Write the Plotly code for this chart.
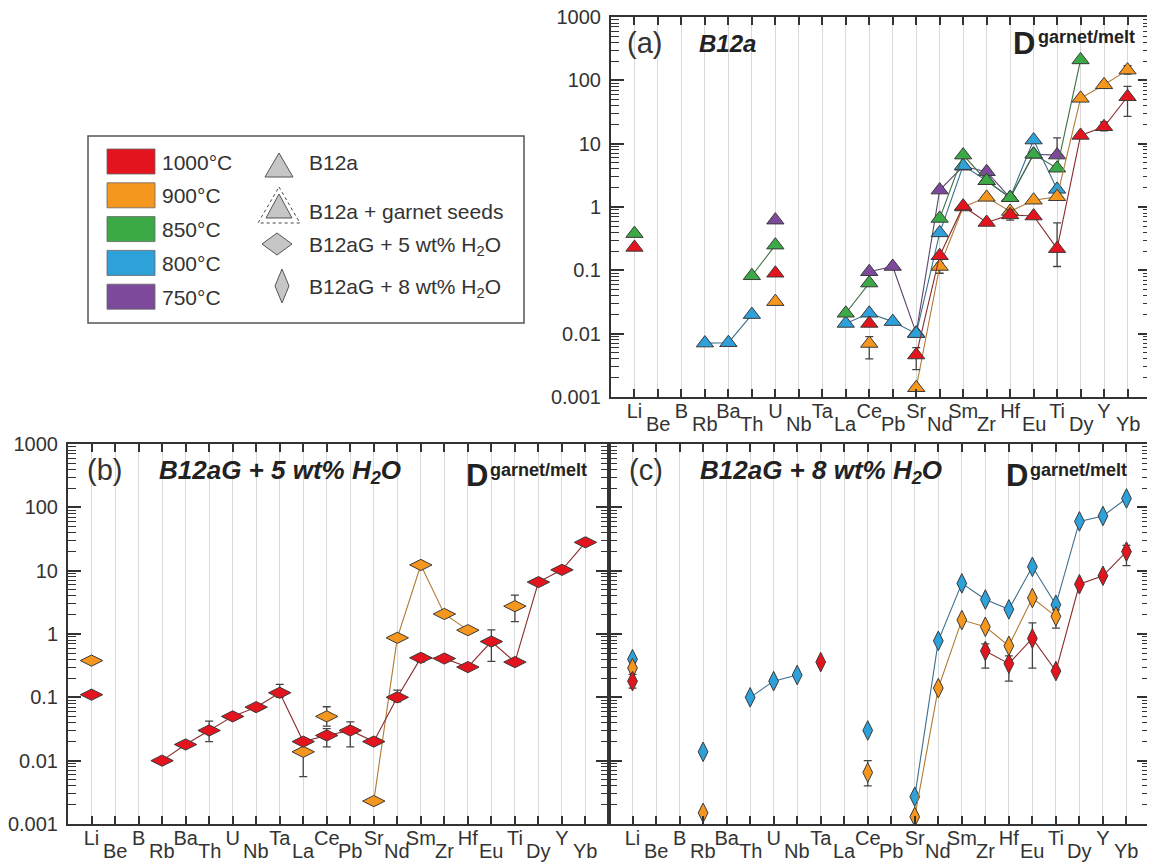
import math
import plotly.graph_objects as go

N = None
elements = ["Li", "Be", "B", "Rb", "Ba", "Th", "U", "Nb", "Ta", "La", "Ce",
            "Pb", "Sr", "Nd", "Sm", "Zr", "Hf", "Eu", "Ti", "Dy", "Y", "Yb"]

# ---------------- Panel (a) B12a (triangles) ----------------
a_750 = [N, N, N, N, N, N, 0.62, N, N, N, 0.095, 0.115, 0.0102, 1.85, 4.4, 3.6, 1.4, 6.8, 6.6, N, N, N]
a_800 = [N, N, N, 0.0071, 0.0072, 0.02, N, N, N, 0.0145, 0.021, 0.0155, 0.01, 0.39, 4.5, 2.6, 1.4, 11.4, 1.9, N, N, N]
a_850 = [0.38, N, N, N, N, 0.082, 0.25, N, N, 0.021, 0.063, N, N, 0.66, 6.6, 2.6, 1.4, 6.8, 4.1, 210, N, N]
a_900 = [N, N, N, N, N, N, 0.032, N, N, N, 0.007, N, 0.0014, 0.115, 1.0, 1.42, 0.85, 1.28, 1.45, 52, 85, 145]
a_1000 = [0.23, N, N, N, N, N, 0.09, N, N, N, 0.0145, N, 0.0046, 0.17, 1.03, 0.57, 0.75, 0.72, 0.22, 13.5, 18.5, 55]
# error bar ends (low, high)
a_750_err = {"Ti": (6.6, 12.3)}
a_900_err = {"Ce": (0.004, 0.009), "Nd": (0.09, 0.13), "Y": (75, 95), "Yb": (125, 170)}
a_1000_err = {"Sr": (0.0027, 0.006), "Hf": (0.62, 0.9), "Ti": (0.115, 0.56), "Y": (16, 22), "Yb": (27, 80)}

# ---------------- Panel (b) B12aG + 5 wt% H2O (wide diamonds) ----------------
b_900 = [N, N, N, N, N, N, N, N, N, N, N, N, 0.0023, 0.87, 12.3, 2.07, 1.15, N, N, N, N, N]
b_900_single = [0.38, N, N, N, N, N, N, N, N, 0.0138, 0.05, N, N, N, N, N, N, N, 2.75, N, N, N]
b_1000 = [0.11, N, N, 0.01, 0.018, 0.03, 0.05, 0.07, 0.118, 0.02, 0.025, 0.03, 0.02, 0.10, 0.42, 0.41, 0.30, 0.76, 0.36, 6.6, 10.3, 28]
b_900_err = {"La": (0.0056, 0.018), "Ce": (0.035, 0.071), "Ti": (1.57, 4.1)}
b_1000_err = {"Th": (0.02, 0.042), "Ta": (0.1, 0.16), "Ce": (0.0165, 0.032), "Pb": (0.0165, 0.041),
              "Nd": (0.085, 0.13), "Sm": (0.36, 0.48), "Eu": (0.37, 1.16)}

# ---------------- Panel (c) B12aG + 8 wt% H2O (tall diamonds) ----------------
c_800 = [0.4, N, N, 0.0138, N, 0.1, 0.18, 0.225, N, N, 0.03, N, 0.0027, 0.78, 6.3, 3.5, 2.45, 11.5, 2.9, 60, 73, 138]
c_900 = [0.29, N, N, 0.0015, N, N, N, N, N, N, 0.0065, N, 0.0013, 0.14, 1.66, 1.3, 0.65, 3.7, 1.9, N, N, N]
c_1000 = [0.18, N, N, N, N, N, N, N, 0.36, N, N, N, N, N, N, 0.54, 0.34, 0.85, 0.26, 6.1, 8.3, 20]
c_900_err = {"Ce": (0.004, 0.01), "Ti": (1.24, 2.4)}
c_1000_err = {"Li": (0.14, 0.23), "Zr": (0.29, 0.7), "Hf": (0.18, 0.45), "Eu": (0.29, 1.5), "Yb": (12, 25)}

y_tick_vals = [0.001, 0.01, 0.1, 1, 10, 100, 1000]
y_tick_text = ["0.001", "0.01", "0.1", "1", "10", "100", "1000"]
ref_value = 1

legend_temps = ["1000°C", "900°C", "850°C", "800°C", "750°C"]
legend_kinds = ["B12a", "B12a + garnet seeds", "B12aG + 5 wt% H<sub>2</sub>O", "B12aG + 8 wt% H<sub>2</sub>O"]

COL = {"1000": "#e3141d", "900": "#f5961e", "850": "#3aa946", "800": "#2ea0da", "750": "#7d4a9b"}
LINE = {"1000": "#8a2a2a", "900": "#b07a35", "850": "#3b7045", "800": "#3d6f8e", "750": "#5e4470"}
FONT = "Liberation Sans, Arial, sans-serif"
TXT = "#333333"

W, H = 1155, 865
OFF = 8  # page body margin
def px(x):
    return (x - OFF) / W
def py(y):
    return 1 - (y - OFF) / H

xs = list(range(len(elements)))

fig = go.Figure()

def err_arrays(vals, errs):
    plus, minus = [], []
    for el, v in zip(elements, vals):
        if v is not None and el in errs:
            lo, hi = errs[el]
            plus.append(hi - v)
            minus.append(v - lo)
        else:
            plus.append(0)
            minus.append(0)
    return plus, minus

def add_series(vals, key, xa, ya, symbol, size, errs=None, mode="lines+markers"):
    kw = {}
    if errs:
        p, m = err_arrays(vals, errs)
        kw["error_y"] = dict(type="data", symmetric=False, array=p, arrayminus=m,
                             color="#444", thickness=1.3, width=4)
    fig.add_trace(go.Scatter(
        x=xs, y=vals, mode=mode, xaxis=xa, yaxis=ya, showlegend=False,
        line=dict(color=LINE[key], width=1.1),
        marker=dict(symbol=symbol, size=size, color=COL[key],
                    line=dict(color="#3a3a3a", width=1)),
        connectgaps=False, **kw))

# panel a
for vals, key, errs in [(a_750, "750", a_750_err), (a_800, "800", None), (a_850, "850", None),
                        (a_900, "900", a_900_err), (a_1000, "1000", a_1000_err)]:
    add_series(vals, key, "x", "y", "triangle-up", 15, errs)
# panel b
add_series(b_900, "900", "x2", "y2", "diamond-wide", 16, None)
add_series(b_900_single, "900", "x2", "y2", "diamond-wide", 16, b_900_err, mode="markers")
add_series(b_1000, "1000", "x2", "y2", "diamond-wide", 16, b_1000_err)
# panel c
add_series(c_800, "800", "x3", "y3", "diamond-tall", 14, None)
add_series(c_900, "900", "x3", "y3", "diamond-tall", 14, c_900_err)
add_series(c_1000, "1000", "x3", "y3", "diamond-tall", 14, c_1000_err)

upper_idx = [i for i in xs if i % 2 == 0]
upper_text = [elements[i] for i in upper_idx]
lower_idx = [i for i in xs if i % 2 == 1]
minor_vals = [m * 10 ** e for e in range(-3, 3) for m in range(2, 10)]

def xcfg(dom, anchor):
    return dict(domain=dom, anchor=anchor, range=[-1, 22], tickmode="array", tickvals=upper_idx,
                ticktext=upper_text, ticks="inside", ticklen=8, tickwidth=1.5, tickcolor="#333",
                minor=dict(tickmode="array", tickvals=lower_idx, ticks="inside", ticklen=8,
                           tickwidth=1.5, tickcolor="#333", showgrid=True,
                           gridcolor="#d9d9d9", gridwidth=1),
                showline=True, linewidth=2, linecolor="#333", mirror="ticks",
                showgrid=True, gridcolor="#d9d9d9", gridwidth=1, zeroline=False,
                tickfont=dict(size=20, color=TXT, family=FONT), ticklabelstandoff=-5,
                ticklabeloverflow="allow", automargin=False)

def ycfg(dom, anchor, labels=True):
    return dict(domain=dom, anchor=anchor, type="log", range=[-3, 3], tickmode="array",
                tickvals=y_tick_vals, ticktext=y_tick_text, showticklabels=labels,
                ticks="inside", ticklen=13, tickwidth=1.5, tickcolor="#333",
                minor=dict(tickmode="array", tickvals=minor_vals, ticks="inside", ticklen=8,
                           tickwidth=1.2, tickcolor="#333", showgrid=False),
                showline=True, linewidth=2, linecolor="#333", mirror="ticks",
                showgrid=False, zeroline=False, automargin=False,
                ticklabeloverflow="allow",
                tickfont=dict(size=20, color=TXT, family=FONT), ticklabelstandoff=4)

xa_dom = [px(611), px(1151)]
ya_dom = [py(397), py(17)]
xb_dom = [px(68), px(609)]
xc_dom = [px(609), px(1150)]
yb_dom = [py(824), py(444)]

fig.update_layout(
    width=W, height=H, autosize=False,
    margin=dict(l=0, r=0, t=0, b=0, pad=0, autoexpand=False),
    paper_bgcolor="white", plot_bgcolor="white", showlegend=False,
    font=dict(family=FONT, color=TXT),
    xaxis=xcfg(xa_dom, "y"), yaxis=ycfg(ya_dom, "x"),
    xaxis2=xcfg(xb_dom, "y2"), yaxis2=ycfg(yb_dom, "x2"),
    xaxis3=xcfg(xc_dom, "y3"), yaxis3=ycfg(yb_dom, "x3", labels=False),
)

shapes = []
annotations = []
for xr, yr in [("x", "y"), ("x2", "y2"), ("x3", "y3")]:
    shapes.append(dict(type="line", xref=xr + " domain", yref=yr, x0=0, x1=1,
                       y0=math.log10(ref_value), y1=math.log10(ref_value),
                       line=dict(color="#222", width=2), layer="below"))
    # staggered (lower) element labels
    for i in lower_idx:
        annotations.append(dict(text=elements[i], x=i, y=0, xref=xr, yref=yr + " domain",
                                xanchor="center", yanchor="top", yshift=-14, showarrow=False,
                                font=dict(size=20, color=TXT, family=FONT)))

def ann(text, x, y, size, xanchor="center", color=TXT):
    annotations.append(dict(text=text, x=px(x), y=py(y), xref="paper", yref="paper",
                            xanchor=xanchor, yanchor="middle", showarrow=False,
                            font=dict(size=size, color=color, family=FONT)))

# panel labels
ann("(a)", 644, 43, 29)
ann("<b><i>B12a</i></b>", 697, 43, 24, "left", "#222")
ann("<b>D</b>", 1024, 43, 31, "center", "#222")
ann("<b>garnet/melt</b>", 1036, 37, 18, "left", "#222")

ann("(b)", 104, 470, 29)
ann("<b><i>B12aG + 5 wt% H<sub>2</sub>O</i></b>", 157, 472, 26, "left", "#222")
ann("<b>D</b>", 477, 476, 31, "center", "#222")
ann("<b>garnet/melt</b>", 488, 470, 18, "left", "#222")

ann("(c)", 646, 470, 29)
ann("<b><i>B12aG + 8 wt% H<sub>2</sub>O</i></b>", 698, 472, 26, "left", "#222")
ann("<b>D</b>", 1017, 476, 31, "center", "#222")
ann("<b>garnet/melt</b>", 1028, 470, 18, "left", "#222")

# legend box
shapes.append(dict(type="rect", xref="paper", yref="paper", x0=px(88), x1=px(524),
                   y0=py(323), y1=py(136), line=dict(color="#555", width=1.5),
                   fillcolor="white", layer="below"))
leg_cols = [COL["1000"], COL["900"], COL["850"], COL["800"], COL["750"]]
for i, (c, t) in enumerate(zip(leg_cols, legend_temps)):
    top = 149 + i * 33.8
    shapes.append(dict(type="rect", xref="paper", yref="paper", x0=px(107), x1=px(155),
                       y0=py(top + 25), y1=py(top), fillcolor=c,
                       line=dict(color="#666", width=0.8)))
    ann(t, 160, top + 13, 21, "left")

def path(points):
    return "M " + " L ".join(f"{px(x):.5f},{py(y):.5f}" for x, y in points) + " Z"

gray = "#c6c6c6"
shapes.append(dict(type="path", xref="paper", yref="paper",
                   path=path([(279, 153), (293, 177), (265, 177)]),
                   fillcolor=gray, line=dict(color="#555", width=1)))
shapes.append(dict(type="path", xref="paper", yref="paper",
                   path=path([(279, 187), (300, 223), (258, 223)]),
                   fillcolor="rgba(0,0,0,0)", line=dict(color="#444", width=1, dash="dot")))
shapes.append(dict(type="path", xref="paper", yref="paper",
                   path=path([(279, 194), (292, 218), (266, 218)]),
                   fillcolor=gray, line=dict(color="#555", width=1)))
shapes.append(dict(type="path", xref="paper", yref="paper",
                   path=path([(262, 244), (277, 233), (292, 244), (277, 255)]),
                   fillcolor=gray, line=dict(color="#555", width=1)))
shapes.append(dict(type="path", xref="paper", yref="paper",
                   path=path([(275, 286), (282, 269), (289, 286), (282, 303)]),
                   fillcolor=gray, line=dict(color="#555", width=1)))
for t, yc in zip(legend_kinds, [162, 211, 246, 288]):
    ann(t, 307, yc, 21, "left")

fig.update_layout(shapes=shapes, annotations=annotations)
fig.write_html("out.html")
